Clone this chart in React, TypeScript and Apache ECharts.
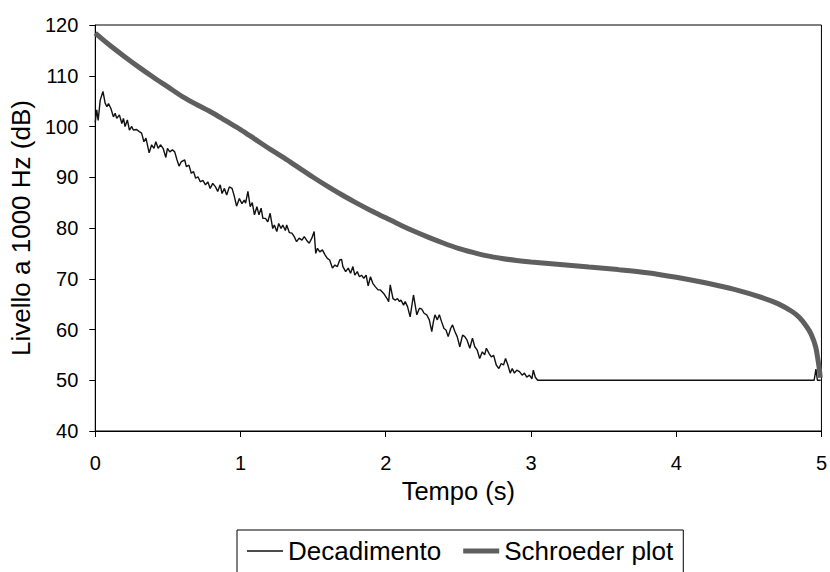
import React, { useEffect, useRef } from "react";
import * as echarts from "echarts";

const decayTime = [
  0.0, 0.01, 0.02, 0.034, 0.053, 0.068, 0.08, 0.091, 0.107, 0.125, 0.137, 0.148, 0.166, 0.183, 0.194, 0.205,
  0.221, 0.235, 0.251, 0.262, 0.285, 0.303, 0.319, 0.335, 0.349, 0.371, 0.388, 0.404, 0.417, 0.433, 0.449,
  0.467, 0.486, 0.497, 0.513, 0.531, 0.547, 0.563, 0.577, 0.593, 0.616, 0.627, 0.645, 0.661, 0.677, 0.691,
  0.707, 0.723, 0.741, 0.759, 0.775, 0.791, 0.809, 0.828, 0.843, 0.86, 0.873, 0.889, 0.905, 0.923, 0.942,
  0.958, 0.973, 0.992, 1.01, 1.026,
  1.035, 1.051, 1.067, 1.081, 1.096, 1.113, 1.127, 1.142, 1.154, 1.172, 1.188, 1.204, 1.222, 1.233, 1.25,
  1.263, 1.279, 1.291, 1.309, 1.318, 1.336, 1.354, 1.37, 1.386, 1.404, 1.423, 1.439, 1.455, 1.473, 1.491,
  1.507, 1.518, 1.53, 1.546, 1.564, 1.582, 1.598, 1.614, 1.633, 1.65, 1.667, 1.683, 1.696, 1.705, 1.724,
  1.742, 1.758, 1.774, 1.787, 1.804, 1.819, 1.833, 1.849, 1.865, 1.879, 1.895, 1.911, 1.929, 1.947,
  1.963, 1.986, 2.009, 2.02, 2.031, 2.05, 2.066, 2.081, 2.095, 2.105, 2.123, 2.134, 2.15, 2.168, 2.191,
  2.214, 2.232, 2.248, 2.264, 2.282, 2.3, 2.317, 2.328, 2.339, 2.355, 2.369, 2.385, 2.401, 2.415, 2.43,
  2.447, 2.46, 2.476, 2.492, 2.51, 2.529, 2.544, 2.56, 2.579, 2.597, 2.613, 2.629, 2.647, 2.665, 2.681,
  2.693, 2.711, 2.727, 2.743, 2.761, 2.779, 2.795, 2.811, 2.825, 2.841, 2.857, 2.871, 2.886, 2.902, 2.921,
  2.939, 2.955, 2.971, 2.989, 3.007, 3.016, 3.03, 3.046, 4.95, 4.962, 4.972, 4.995,
];

const decayLevel = [
  100.8, 103.3, 101.2, 105.2, 106.9, 104.6, 103.9, 104.5, 103.6, 101.9, 102.6, 101.6, 102.3, 100.6, 101.6, 100.0,
  101.3, 99.3, 100.0, 99.3, 99.4, 99.0, 98.7, 97.0, 97.7, 94.8, 96.4, 95.7, 97.0, 95.7, 96.4,
  95.7, 93.9, 95.7, 95.0, 95.4, 95.0, 93.4, 92.2, 93.1, 93.4, 92.1, 92.4, 90.8, 91.1, 89.8,
  90.1, 89.1, 89.4, 88.5, 89.1, 87.8, 88.8, 88.1, 87.2, 88.5, 86.8, 87.8, 86.5, 88.1, 87.8,
  86.2, 84.3, 85.8, 84.8, 85.5,
  84.9, 87.2, 84.2, 85.0, 82.6, 84.2, 82.6, 83.9, 81.9, 81.9, 81.2, 82.9, 79.9, 80.6, 79.3,
  80.9, 79.9, 80.6, 79.5, 80.6, 79.1, 79.0, 78.3, 77.3, 78.0, 77.6, 78.3, 77.6, 77.0, 78.0,
  79.3, 75.0, 76.0, 75.3, 75.7, 74.7, 74.0, 73.7, 72.1, 72.7, 72.4, 73.7, 73.8, 72.4, 71.4,
  72.1, 71.1, 72.4, 70.7, 71.4, 70.4, 70.7, 70.1, 70.7, 68.6, 70.4, 69.1, 68.4, 67.8,
  67.8, 67.1, 66.1, 65.5, 68.8, 66.1, 65.8, 66.1, 65.5, 65.8, 64.8, 65.5, 64.5, 62.5, 66.8,
  62.9, 64.2, 64.0, 63.2, 62.9, 61.9, 59.6, 61.5, 62.9, 61.9, 62.9, 61.5, 60.2, 59.9, 58.6,
  60.2, 60.9, 59.6, 58.6, 56.6, 58.9, 58.6, 57.9, 56.3, 58.3, 56.6, 56.0, 54.3, 55.6, 55.0,
  56.3, 55.3, 54.6, 54.9, 53.0, 52.3, 53.3, 53.0, 54.3, 53.0, 51.4, 52.3, 51.4, 52.0, 51.7,
  51.0, 51.4, 50.6, 51.0, 50.3, 52.0, 50.6, 50.0, 50.0, 52.2, 50.0, 50.0,
];

const schroederTime = [
  0, 0.1, 0.2, 0.3, 0.4, 0.5, 0.6, 0.7, 0.8, 0.9, 1.0, 1.1, 1.2, 1.3, 1.4, 1.5, 1.6, 1.7, 1.8, 1.9, 2.0,
  2.1, 2.2, 2.3, 2.4, 2.5, 2.6, 2.7, 2.8, 2.9, 3.0, 3.2, 3.4, 3.6, 3.8, 4.0, 4.2, 4.4, 4.6, 4.7, 4.8,
  4.85, 4.9, 4.93, 4.96, 4.975, 4.985, 4.992,
];

const schroederLevel = [
  118.4, 116.0, 113.8, 111.7, 109.7, 107.8, 105.9, 104.3, 102.8, 101.1, 99.4, 97.5, 95.6, 93.8, 91.9, 90.0,
  88.2, 86.5, 84.9, 83.4, 82.0, 80.6, 79.3, 78.1, 77.0, 76.0, 75.2, 74.5, 74.0, 73.6, 73.3, 72.8, 72.3,
  71.8, 71.2, 70.3, 69.2, 67.9, 66.2, 65.1, 63.5, 62.3, 60.5, 59.0, 56.6, 54.2, 52.3, 50.5,
];

const seriesNames = ["Decadimento", "Schroeder plot"];
const xTitle = "Tempo (s)";
const yTitle = "Livello a 1000 Hz (dB)";

export default function App() {
  const ref = useRef<HTMLDivElement>(null);
  useEffect(() => {
    if (!ref.current) return;
    const chart = echarts.init(ref.current, null, { renderer: "svg" });
    const font = "'Liberation Sans', Arial, sans-serif";
    chart.setOption({
      animation: false,
      backgroundColor: "#ffffff",
      textStyle: { fontFamily: font, color: "#000" },
      grid: {
        left: 93,
        right: 3.5,
        top: 25,
        bottom: 141,
        show: true,
        borderColor: "#000",
        borderWidth: 1,
        backgroundColor: "transparent",
      },
      legend: {
        left: 237,
        top: 530,
        orient: "horizontal",
        padding: [8, 10, 40, 10],
        borderColor: "#000",
        borderWidth: 1,
        itemGap: 22,
        itemWidth: 36,
        itemHeight: 14,
        itemStyle: { borderWidth: 0 },
        textStyle: { fontSize: 26, color: "#000", fontFamily: font },
        data: [
          { name: seriesNames[0], icon: "path://M0,0H36V1.4H0Z" },
          { name: seriesNames[1], icon: "path://M0,0H36V5H0Z" },
        ],
      },
      xAxis: {
        type: "value",
        min: 0,
        max: 5,
        interval: 1,
        name: xTitle,
        nameLocation: "middle",
        nameGap: 43,
        nameTextStyle: { fontSize: 25.5, color: "#000", fontFamily: font },
        axisLine: { show: true, onZero: false, lineStyle: { color: "#000", width: 1 } },
        axisTick: { show: true, length: 6, lineStyle: { color: "#000", width: 1 } },
        axisLabel: { fontSize: 20, color: "#000", margin: 22, fontFamily: font },
        splitLine: { show: false },
      },
      yAxis: {
        type: "value",
        min: 40,
        max: 120,
        interval: 10,
        name: yTitle,
        nameLocation: "middle",
        nameGap: 56,
        nameTextStyle: { fontSize: 26, color: "#000", fontFamily: font },
        axisLine: { show: true, onZero: false, lineStyle: { color: "#000", width: 1 } },
        axisTick: { show: true, length: 6, lineStyle: { color: "#000", width: 1 } },
        axisLabel: { fontSize: 20, color: "#000", margin: 17, fontFamily: font },
        splitLine: { show: false },
      },
      series: [
        {
          name: seriesNames[0],
          type: "line",
          data: decayTime.map((t, i) => [t, decayLevel[i]]),
          symbol: "none",
          showSymbol: false,
          color: "#111111",
          lineStyle: { color: "#111111", width: 1.4 },
          z: 2,
        },
        {
          name: seriesNames[1],
          type: "line",
          data: schroederTime.map((t, i) => [t, schroederLevel[i]]),
          symbol: "none",
          showSymbol: false,
          smooth: 0.3,
          color: "#5f5f5f",
          lineStyle: { color: "#5f5f5f", width: 5 },
          z: 3,
        },
      ],
    });
    return () => chart.dispose();
  }, []);
  return (
    <div
      ref={ref}
      style={{ position: "fixed", left: 0, top: 0, width: 830, height: 572, background: "#fff" }}
    />
  );
}
